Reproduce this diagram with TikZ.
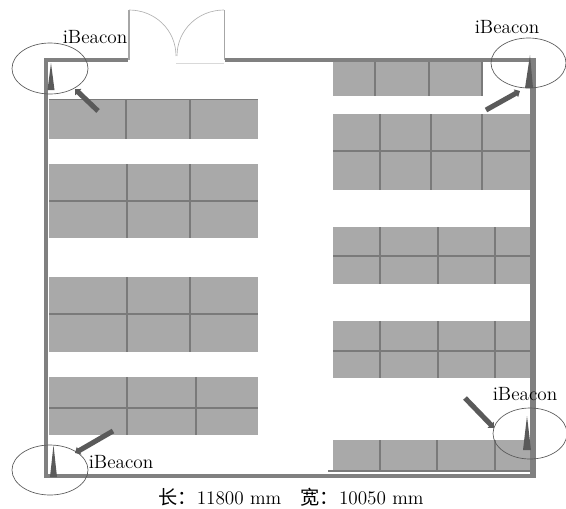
\documentclass[tikz,border=0pt]{standalone}
\usepackage{fontspec}
\newfontfamily\cjk{Noto Sans CJK SC}
\usetikzlibrary{arrows.meta}
\definecolor{shelf}{HTML}{A9A9A9}
\definecolor{wallc}{HTML}{808080}
\definecolor{divc}{HTML}{7A7A7A}
\definecolor{markc}{HTML}{5A5A5A}
\tikzset{
  x=0.75pt,y=-0.75pt,
  shelfbox/.style={fill=shelf,draw=none},
  divider/.style={draw=divc,line width=1.3pt},
  wall/.style={draw=wallc,line width=3.4pt,line cap=butt},
  zone/.style={draw=black!65,line width=0.5pt},
  beacon/.style={fill=markc,draw=none},
  pointer/.style={draw=markc,line width=3.8pt,-{Triangle[length=3.5pt,width=6.5pt]}},
  door/.style={draw=black!30,line width=0.5pt},
  jamb/.style={draw=wallc!70,line width=1pt},
  label/.style={inner sep=0pt,font=\fontsize{14.4}{16}\selectfont},
}
\begin{document}
\begin{tikzpicture}
\useasboundingbox (0,0) rectangle (566,508);
% left shelves
\fill[shelfbox] (49,99) rectangle (258,139);
\fill[shelfbox] (49,164) rectangle (258,238);
\fill[shelfbox] (49,277) rectangle (258,352);
\fill[shelfbox] (49,377) rectangle (258,435);
\draw[divider] (49,99.5) -- (258,99.5);
\foreach \x in {126,190} \draw[divider] (\x,99) -- (\x,139);
\draw[divider] (49,201) -- (258,201);
\foreach \x in {127,190} \draw[divider] (\x,164) -- (\x,238);
\draw[divider] (49,314) -- (258,314);
\foreach \x in {127,190} \draw[divider] (\x,277) -- (\x,352);
\draw[divider] (49,408) -- (258,408);
\draw[divider] (127,377) -- (127,435);
\draw[divider] (196,377) -- (196,435);
% right shelves
\fill[shelfbox] (333,61) rectangle (482,96);
\fill[shelfbox] (333,114) rectangle (532,190);
\fill[shelfbox] (333,227) rectangle (532,284);
\fill[shelfbox] (333,321) rectangle (532,378);
\fill[shelfbox] (333,440) rectangle (532,472);
\foreach \x in {375,429,482} \draw[divider] (\x,61) -- (\x,96);
\draw[divider] (333,151) -- (532,151);
\foreach \x in {380,431,482} \draw[divider] (\x,114) -- (\x,190);
\draw[divider] (333,256) -- (532,256);
\foreach \x in {380,438,495} \draw[divider] (\x,227) -- (\x,284);
\draw[divider] (333,351) -- (532,351);
\foreach \x in {380,438,495} \draw[divider] (\x,321) -- (\x,378);
\foreach \x in {380,437,495} \draw[divider] (\x,440) -- (\x,472);
\draw[divider] (328,471) -- (532,471);
% walls
\draw[wall] (46,58) -- (46,478);
\draw[wall] (44,476) -- (536,476);
\draw[wall] (44,60) -- (128,60);
\draw[wall] (225,60) -- (536,60);
\draw[wall,line width=4.2pt] (533,58) -- (533,478);
% door
\draw[jamb] (129,10) -- (129,60);
\draw[jamb] (224.5,10) -- (224.5,60);
\draw[door] (129,10) .. controls (155,10) and (176,30) .. (176,56);
\draw[door] (224,10) .. controls (198,10) and (177,30) .. (177,56);
\draw[black!15,line width=0.5pt] (176,63) -- (224,63);
% beacons
\fill[beacon] (51,63) -- (54.5,90) -- (47.5,90) -- cycle;
\fill[beacon] (530,55) -- (533,88) -- (525,88) -- cycle;
\fill[beacon] (53.5,445) -- (57,477) -- (50,477) -- cycle;
\fill[beacon] (527,416) -- (531,450) -- (523,450) -- cycle;
% zones
\draw[zone] (50,68.5) ellipse (38 and 25.5);
\draw[zone] (528.5,63) ellipse (37.5 and 25);
\draw[zone] (50,470) ellipse (38 and 25);
\draw[zone] (530,433.5) ellipse (37 and 25.5);
% pointers
\draw[pointer] (98,111) -- (75,89);
\draw[pointer] (486,110) -- (520,91);
\draw[pointer] (113,431) -- (75,453);
\draw[pointer] (465,398) -- (494,428);
% labels
\node[label] (tl) at (95,37) {iBeacon};
\node[label] (tr) at (507,27) {iBeacon};
\node[label] (bl) at (121,462) {iBeacon};
\node[label] (br) at (525,394) {iBeacon};
\node[label] (cap) at (291,497) {{\cjk 长：}11800 mm\hspace{1em}{\cjk 宽：}10050 mm};
\end{tikzpicture}
\end{document}
